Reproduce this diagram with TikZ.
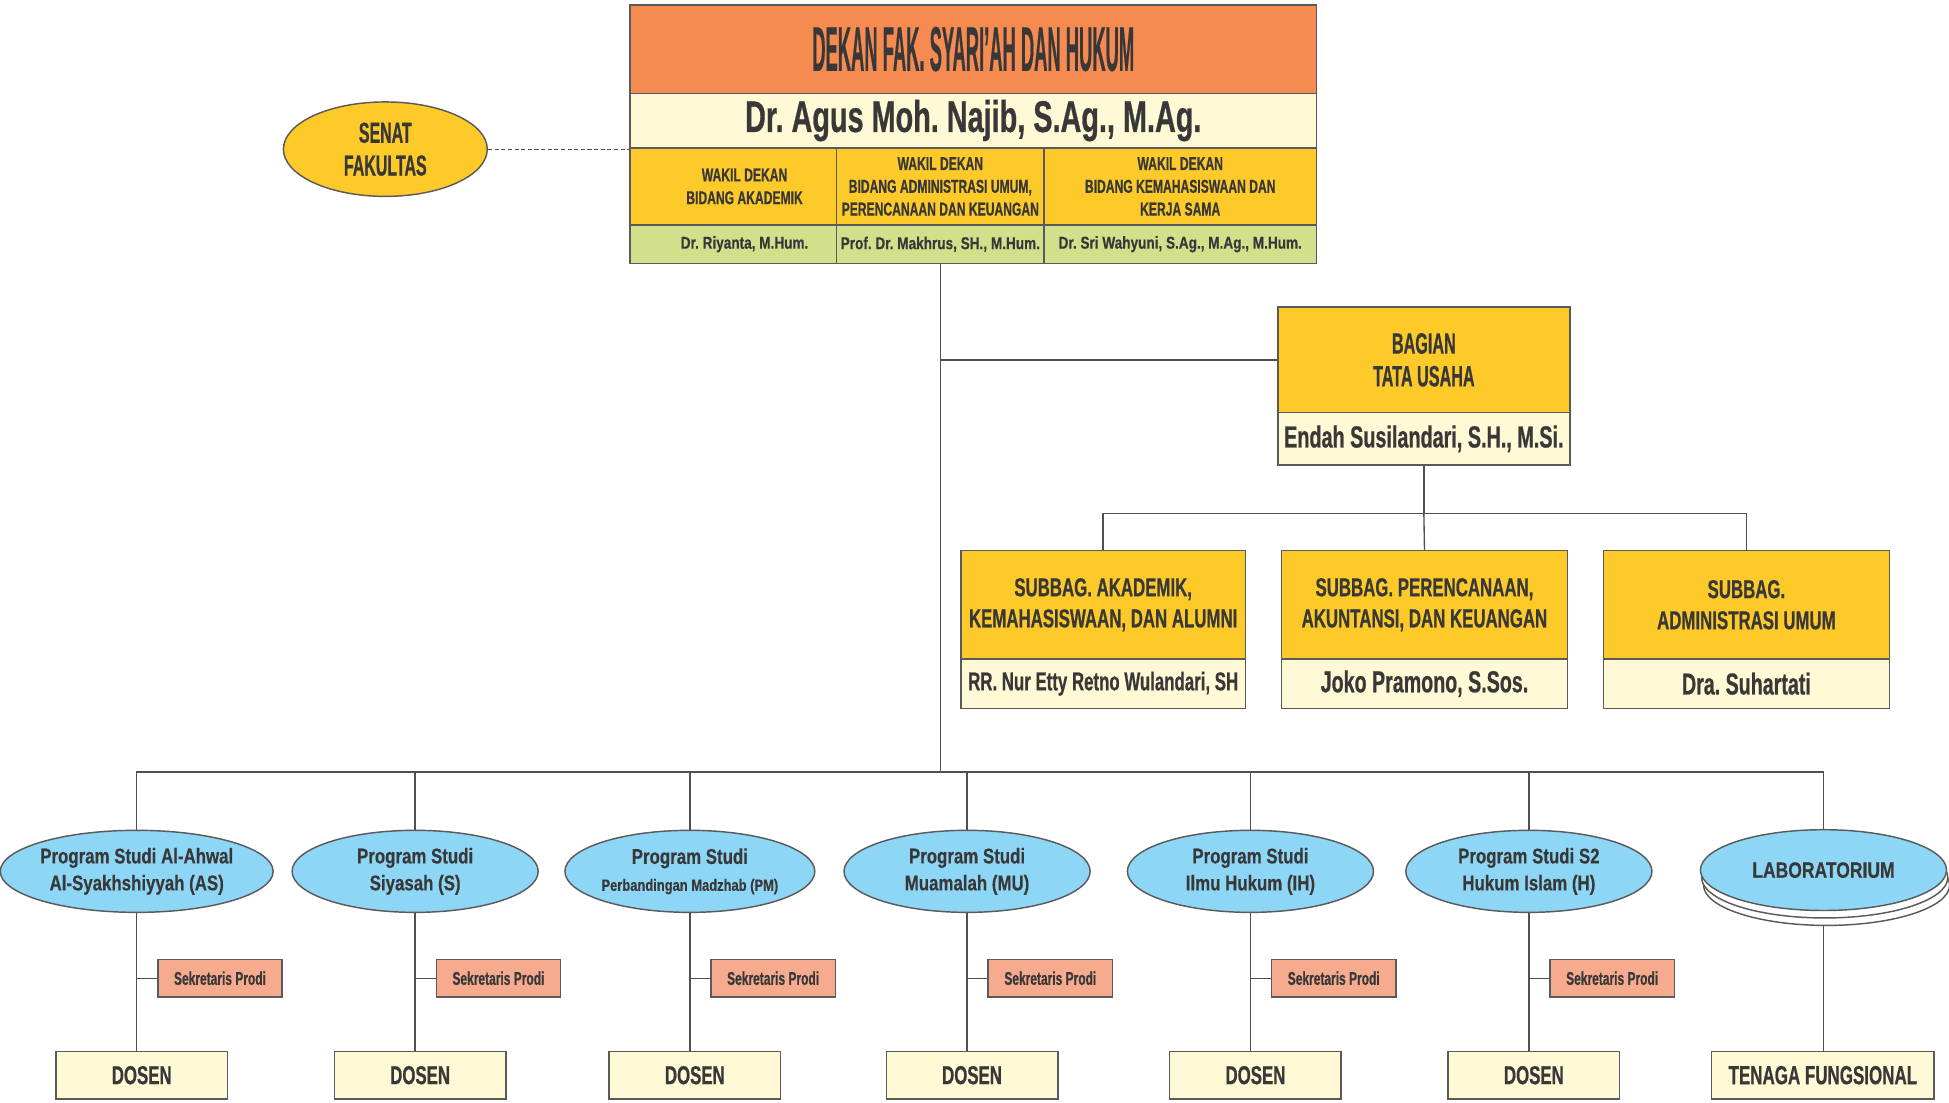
\documentclass[tikz,border=0pt]{standalone}
\usepackage{fontspec}
\usepackage{graphicx}
\usetikzlibrary{shapes.geometric}
\newfontfamily\cf{Liberation Sans}[FakeStretch=0.65, BoldFeatures={FakeBold=0.6}]
\newfontfamily\cfn{Liberation Sans}[FakeStretch=0.79, BoldFeatures={FakeBold=0.4}]
\newfontfamily\cfc{Liberation Sans}[FakeStretch=0.55, BoldFeatures={FakeBold=0.6}]
\newcommand{\myfs}[2]{\cf\bfseries\fontsize{#1}{#2}\selectfont}
\newcommand{\mynfs}[2]{\cfn\bfseries\fontsize{#1}{#2}\selectfont}
\newcommand{\mycfs}[2]{\cfc\bfseries\fontsize{#1}{#2}\selectfont}
\frenchspacing
\definecolor{orangeF}{HTML}{F68B51}
\definecolor{creamF}{HTML}{FFF9D5}
\definecolor{yellowF}{HTML}{FDCA29}
\definecolor{greenF}{HTML}{D3E08B}
\definecolor{blueF}{HTML}{8ED6F6}
\definecolor{salmonF}{HTML}{F6AA8E}
\definecolor{txt}{HTML}{383838}
\definecolor{bord}{HTML}{5A5A5A}
\definecolor{lin}{HTML}{505050}
\tikzset{
 bx/.style={draw=bord, line width=0.7pt, inner sep=0pt, align=center, text=txt},
 conn/.style={draw=lin, line width=0.65pt},
 pst/.style={ellipse, draw=bord, line width=0.7pt, fill=blueF, inner sep=0pt, minimum width=198*0.6pt, minimum height=66*0.6pt, align=center, text=txt, font=\mynfs{10.3}{13}},
 sek/.style={bx, fill=salmonF, minimum width=100*0.6pt, minimum height=30*0.6pt, font=\myfs{8.9}{10}},
 dos/.style={bx, fill=creamF, minimum width=138*0.6pt, minimum height=38*0.6pt, font=\myfs{12.5}{14}},
 wak/.style={bx, fill=yellowF, minimum height=62*0.6pt, font=\myfs{9}{11}},
 wgr/.style={bx, fill=greenF, minimum height=31*0.6pt, font=\mynfs{8.3}{10}},
 subh/.style={bx, fill=yellowF, minimum height=87*0.6pt, font=\myfs{12.5}{15}},
 subn/.style={bx, fill=creamF, minimum height=40*0.6pt, font=\myfs{14.6}{16}},
}
\begin{document}
\begin{tikzpicture}[x=0.6pt,y=-0.6pt]
\useasboundingbox[fill=white] (0,0) rectangle (1568,886.6);

% top block
\node[bx, fill=orangeF, minimum width=552*0.6pt, minimum height=71*0.6pt] (dekan) at (783,39.5) {\resizebox{155.4pt}{21.2pt}{\myfs{20}{24}DEKAN FAK. SYARI’AH DAN HUKUM}};
\node[bx, fill=creamF, minimum width=552*0.6pt, minimum height=44*0.6pt, font=\myfs{21.4}{24}] (dekannm) at (783,97) {Dr. Agus Moh. Najib, S.Ag., M.Ag.};
\node[wak, minimum width=166*0.6pt] (wk1) at (590,150) {\hspace*{10.8pt}WAKIL DEKAN\\\hspace*{10.8pt}BIDANG AKADEMIK};
\node[wak, minimum width=167*0.6pt] (wk2) at (756.5,150) {WAKIL DEKAN\\BIDANG ADMINISTRASI UMUM,\\PERENCANAAN DAN KEUANGAN};
\node[wak, minimum width=219*0.6pt] (wk3) at (949.5,150) {WAKIL DEKAN\\BIDANG KEMAHASISWAAN DAN\\KERJA SAMA};
\node[wgr, minimum width=166*0.6pt] (wg1) at (590,196.5) {\hspace*{10.8pt}Dr. Riyanta, M.Hum.};
\node[wgr, minimum width=167*0.6pt] (wg2) at (756.5,196.5) {Prof. Dr. Makhrus, SH., M.Hum.};
\node[wgr, minimum width=219*0.6pt] (wg3) at (949.5,196.5) {Dr. Sri Wahyuni, S.Ag., M.Ag., M.Hum.};

% senat
\node[ellipse, draw=bord, line width=0.7pt, fill=yellowF, inner sep=0pt, minimum width=164*0.6pt, minimum height=76*0.6pt, font=\mycfs{14}{15.8}, text=txt, align=center] (senat) at (310,120) {SENAT\\FAKULTAS};
\draw[conn, line width=0.6pt, dash pattern=on 2pt off 1.2pt] (senat.east) -- (senat.east -| wk1.west);

% tata usaha
\node[bx, fill=yellowF, minimum width=235*0.6pt, minimum height=85*0.6pt, font=\mycfs{14.2}{15.8}] (tuh) at (1145.5,289.5) {BAGIAN\\TATA USAHA};
\node[bx, fill=creamF, minimum width=235*0.6pt, minimum height=42*0.6pt, font=\myfs{14.7}{16}] (tun) at (1145.5,353) {Endah Susilandari, S.H., M.Si.};

\coordinate (bus) at (757,621);
\coordinate (sb) at (1145.5,413);
\draw[conn] (wg2.south) -- (wg2.south |- bus);
\draw[conn] (wg2.south |- tuh.west) -- (tuh.west);

% subbag
\node[subh, minimum width=229*0.6pt] (s1h) at (887.5,486.5) {SUBBAG. AKADEMIK,\\KEMAHASISWAAN, DAN ALUMNI};
\node[subh, minimum width=230*0.6pt] (s2h) at (1146,486.5) {SUBBAG. PERENCANAAN,\\AKUNTANSI, DAN KEUANGAN};
\node[subh, minimum width=230*0.6pt] (s3h) at (1405,486.5) {SUBBAG.\\ADMINISTRASI UMUM};
\node[subn, minimum width=229*0.6pt, font=\myfs{12.5}{14}] (s1n) at (887.5,550) {RR. Nur Etty Retno Wulandari, SH};
\node[subn, minimum width=230*0.6pt] (s2n) at (1146,550) {Joko Pramono, S.Sos.};
\node[subn, minimum width=230*0.6pt] (s3n) at (1405,550) {Dra. Suhartati};
\draw[conn] (tun.south) -- (sb);
\draw[conn] (s1h.north) |- (sb) -| (s3h.north);
\draw[conn] (sb) -- (s2h.north);

% program studi
\node[pst] (p1) at (110,701) {Program Studi Al-Ahwal\\Al-Syakhshiyyah (AS)};
\node[pst] (p2) at (334,701) {Program Studi\\Siyasah (S)};
\node[pst] (p3) at (555,701) {Program Studi\\{\mynfs{7.9}{13}Perbandingan Madzhab (PM)}};
\node[pst] (p4) at (778,701) {Program Studi\\Muamalah (MU)};
\node[pst] (p5) at (1006,701) {Program Studi\\Ilmu Hukum (IH)};
\node[pst] (p6) at (1230,701) {Program Studi S2\\Hukum Islam (H)};

% laboratorium stack
\node[ellipse, draw=bord, line width=0.7pt, fill=white, inner sep=0pt, minimum width=198*0.6pt, minimum height=65*0.6pt] (lab3) at (1469.5,712) {};
\node[ellipse, draw=bord, line width=0.7pt, fill=white, inner sep=0pt, minimum width=198*0.6pt, minimum height=65*0.6pt] (lab2) at (1468,706) {};
\node[pst, minimum height=65*0.6pt, font=\mynfs{10.7}{12}] (lab) at (1467,700) {LABORATORIUM};

\draw[conn] (p1.north) |- (bus) -| (lab.north);
\foreach \p in {p2,p3,p4,p5,p6} {\draw[conn] (\p.north) -- (\p.north |- bus);}

% sekretaris and dosen
\node[sek] (k1) at (177,787) {Sekretaris Prodi};
\node[sek] (k2) at (401,787) {Sekretaris Prodi};
\node[sek] (k3) at (622,787) {Sekretaris Prodi};
\node[sek] (k4) at (845,787) {Sekretaris Prodi};
\node[sek] (k5) at (1073,787) {Sekretaris Prodi};
\node[sek] (k6) at (1297,787) {Sekretaris Prodi};
\node[dos] (d1) at (114,865) {DOSEN};
\node[dos] (d2) at (338,865) {DOSEN};
\node[dos] (d3) at (559,865) {DOSEN};
\node[dos] (d4) at (782,865) {DOSEN};
\node[dos] (d5) at (1010,865) {DOSEN};
\node[dos] (d6) at (1234,865) {DOSEN};
\node[dos, minimum width=179*0.6pt, font=\myfs{12.6}{14}] (tf) at (1466.5,865) {TENAGA FUNGSIONAL};
\foreach \i in {1,...,6} {
  \draw[conn] (p\i.south) -- (p\i.south |- d\i.north);
  \draw[conn] (p\i.south |- k\i.west) -- (k\i.west);
}
\draw[conn] (lab3.south -| lab.south) -- (lab.south |- tf.north);
\end{tikzpicture}
\end{document}
